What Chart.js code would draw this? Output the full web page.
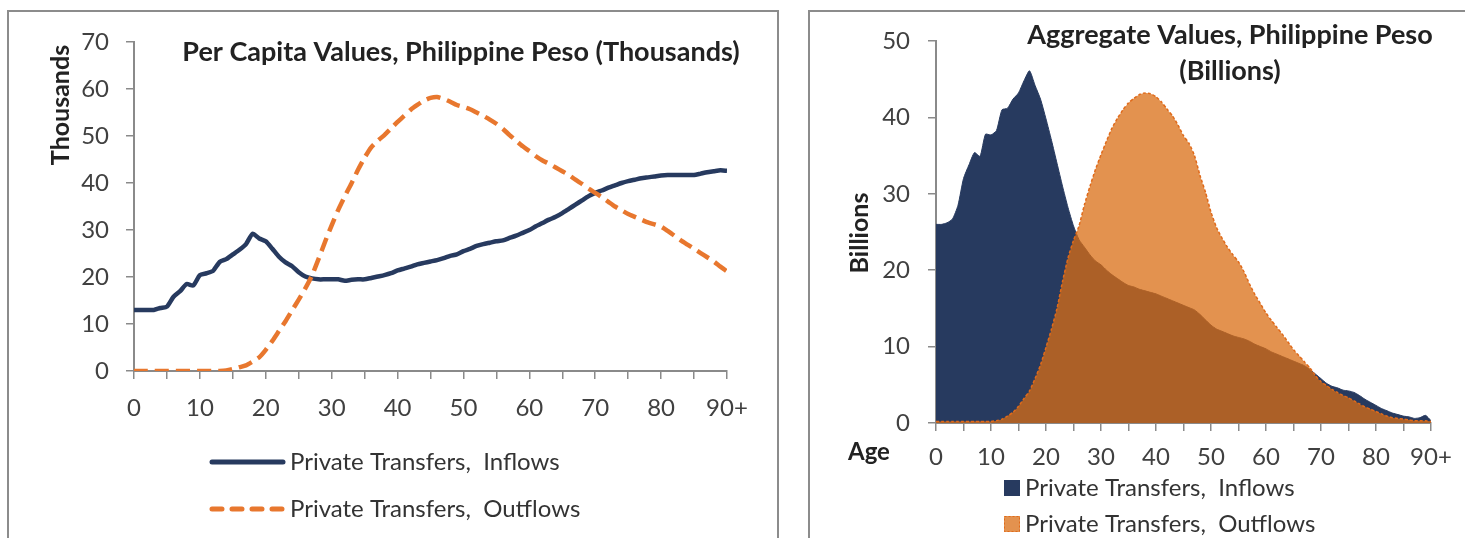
<!DOCTYPE html>
<html>
<head>
<meta charset="utf-8">
<script src="https://cdn.jsdelivr.net/npm/chart.js@4.4.1/dist/chart.umd.min.js"></script>
<style>
  body { margin: 0; background: #fff; width: 1465px; height: 538px; overflow: hidden; position: relative; }
  .box { position: absolute; border: 2px solid #8c8c8c; border-bottom: none; }
  canvas { position: absolute; top: 0; }
</style>
</head>
<body>
<div class="box" style="left:7px; top:10px; width:768px; height:540px;"></div>
<div class="box" style="left:808px; top:10px; width:700px; height:540px;"></div>
<canvas id="perCapita" width="790" height="538" style="left:0"></canvas>
<canvas id="aggregate" width="675" height="538" style="left:790px"></canvas>
<script>
// --- Data ---
const ages = Array.from({ length: 91 }, (_, i) => i);

// per capita, thousands of pesos
const perCapitaInflows = [
  13.0, 13.0, 13.0, 13.0, 13.4, 13.7, 15.8, 17.0, 18.5, 18.2,
  20.4, 20.8, 21.3, 23.2, 23.8, 24.8, 25.8, 27.0, 29.2, 28.2,
  27.6, 26.0, 24.3, 23.1, 22.3, 21.0, 20.1, 19.7, 19.5, 19.5,
  19.5, 19.5, 19.2, 19.4, 19.5, 19.5, 19.8, 20.1, 20.4, 20.8,
  21.4, 21.8, 22.2, 22.7, 23.0, 23.3, 23.6, 24.0, 24.5, 24.8,
  25.5, 26.0, 26.6, 27.0, 27.3, 27.6, 27.8, 28.3, 28.8, 29.4,
  30.0, 30.8, 31.5, 32.2, 32.8, 33.6, 34.5, 35.4, 36.3, 37.2,
  37.9, 38.4, 39.0, 39.5, 40.0, 40.4, 40.7, 41.0, 41.2, 41.4,
  41.6, 41.7, 41.7, 41.7, 41.7, 41.7, 42.0, 42.3, 42.5, 42.7,
  42.6
];
const perCapitaOutflows = [
  0, 0, 0, 0, 0, 0, 0, 0, 0, 0,
  0, 0, 0, 0, 0.1, 0.4, 0.8, 1.2, 2.0, 2.9,
  4.5, 6.4, 8.5, 10.6, 12.9, 15.2, 17.6, 20.3, 23.8, 27.5,
  31.0, 34.3, 37.2, 39.9, 42.8, 45.4, 47.6, 49.0, 50.2, 51.6,
  53.0, 54.3, 55.6, 56.6, 57.5, 58.1, 58.3, 57.9, 57.3, 56.6,
  56.2, 55.7, 55.0, 54.3, 53.5, 52.6, 51.5, 50.2, 49.0, 47.8,
  46.8, 45.7, 44.8, 44.1, 43.3, 42.5, 41.7, 40.7, 39.8, 38.8,
  37.9, 37.0, 36.0, 35.0, 34.2, 33.4, 32.8, 32.2, 31.6, 31.2,
  30.7, 29.8, 28.8, 27.8, 26.9, 26.0, 25.1, 24.2, 23.3, 22.2,
  21.2
];

// aggregate, billions of pesos
const aggregateInflows = [
  26.0, 26.0, 26.2, 26.7, 28.5, 32.0, 33.8, 35.4, 34.9, 37.8,
  37.7, 38.3, 41.0, 41.2, 42.4, 43.2, 44.8, 46.1, 44.2, 42.4,
  39.8, 37.0, 34.0, 31.0, 28.2, 25.8, 24.0, 23.0, 22.0, 21.2,
  20.7, 20.0, 19.4, 18.9, 18.4, 18.0, 17.8, 17.5, 17.3, 17.1,
  16.9, 16.6, 16.3, 16.0, 15.7, 15.4, 15.1, 14.8, 14.2, 13.5,
  12.8, 12.3, 12.0, 11.7, 11.4, 11.2, 11.0, 10.7, 10.3, 10.0,
  9.7, 9.3, 9.0, 8.7, 8.4, 8.1, 7.8, 7.5, 7.0, 6.4,
  5.8, 5.2, 4.8, 4.6, 4.3, 4.2, 4.0, 3.6, 3.1, 2.7,
  2.3, 1.9, 1.6, 1.3, 1.1, 0.9, 0.8, 0.6, 0.7, 1.0,
  0.3
];
const aggregateOutflows = [
  0.2, 0.2, 0.2, 0.2, 0.2, 0.2, 0.2, 0.2, 0.2, 0.2,
  0.2, 0.3, 0.5, 0.9, 1.4, 2.2, 3.2, 4.2, 5.8, 7.6,
  9.9, 12.3, 15.0, 18.5, 21.6, 23.9, 25.8, 28.6, 31.0, 33.2,
  35.1, 36.9, 38.6, 39.9, 41.0, 41.9, 42.5, 43.0, 43.2, 43.1,
  42.7, 42.0, 41.1, 40.2, 39.0, 37.6, 36.6, 35.0, 32.4, 30.2,
  27.6, 25.6, 24.2, 23.0, 22.0, 21.1, 19.8, 18.2, 16.8, 15.6,
  14.4, 13.4, 12.5, 11.6, 10.6, 9.6, 8.8, 8.0, 7.2, 6.2,
  5.4, 4.9, 4.4, 4.0, 3.6, 3.3, 2.9, 2.5, 2.1, 1.8,
  1.5, 1.2, 0.9, 0.7, 0.6, 0.5, 0.4, 0.3, 0.3, 0.3,
  0.2
];

const perCapitaTicks = [0, 10, 20, 30, 40, 50, 60, 70];
const aggregateTicks = [0, 10, 20, 30, 40, 50];
const inflowName = 'Private Transfers,  Inflows';
const outflowName = 'Private Transfers,  Outflows';

// --- Styles ---
const NAVY = '#273a5f';
const ORANGE = '#e8772e';
const AXIS = '#8a8a8a';
const TEXT = '#404040';
const FONT = 'Lato, "Open Sans", sans-serif';

const toPoints = vals => ages.map((a, i) => ({ x: a, y: vals[i] }));

function ageLabel(v) {
  if (v % 10 !== 0) return '';
  return v === 90 ? '90+' : String(v);
}

function xAxis(height, pad) {
  return {
    type: 'linear', min: 0, max: 90,
    border: { color: AXIS, width: 2 },
    grid: { drawOnChartArea: false, tickLength: 8, color: AXIS, lineWidth: 1.5 },
    ticks: { stepSize: 5, autoSkip: false, maxRotation: 0, padding: pad, color: TEXT,
             font: { family: FONT, size: 24 }, callback: ageLabel },
    afterFit: s => { s.height = height; }
  };
}

function yAxis(max, tickVals, width, pad) {
  return {
    min: 0, max: max,
    border: { color: AXIS, width: 2 },
    grid: { drawOnChartArea: false, tickLength: 8, color: AXIS, lineWidth: 1.5 },
    afterBuildTicks: s => { s.ticks = tickVals.map(v => ({ value: v })); },
    ticks: { padding: pad, color: TEXT, font: { family: FONT, size: 24 } },
    afterFit: s => { s.width = width; }
  };
}

// titles, axis titles and legends drawn on the canvas
function decor(cfg) {
  return {
    id: 'decor',
    afterDraw(chart) {
      const ctx = chart.ctx;
      ctx.save();
      ctx.textBaseline = 'middle';
      ctx.fillStyle = '#222';
      ctx.font = 'bold 27px ' + FONT;
      ctx.textAlign = 'center';
      cfg.title.forEach(t => ctx.fillText(t.text, t.x, t.y));

      ctx.font = 'bold 25px ' + FONT;
      ctx.save();
      ctx.translate(cfg.yTitle.x, cfg.yTitle.y);
      ctx.rotate(-Math.PI / 2);
      ctx.fillText(cfg.yTitle.text, 0, 0);
      ctx.restore();

      if (cfg.xTitle) {
        ctx.font = 'bold 24px ' + FONT;
        ctx.textAlign = 'left';
        ctx.fillText(cfg.xTitle.text, cfg.xTitle.x, cfg.xTitle.y);
      }

      ctx.font = '24px ' + FONT;
      ctx.textAlign = 'left';
      cfg.legend.forEach(item => {
        const ds = chart.data.datasets[item.ds];
        const y = item.y;
        if (cfg.legendType === 'line') {
          ctx.strokeStyle = ds.borderColor;
          ctx.lineWidth = 5;
          ctx.lineCap = 'round';
          ctx.setLineDash(ds.borderDash ? [10, 10] : []);
          ctx.beginPath();
          ctx.moveTo(cfg.legendX, y);
          ctx.lineTo(cfg.legendX + 71, y);
          ctx.stroke();
          ctx.setLineDash([]);
          ctx.fillStyle = '#333';
          ctx.fillText(ds.label, cfg.legendX + 78, y);
        } else {
          ctx.fillStyle = ds.backgroundColor;
          ctx.fillRect(cfg.legendX, y - 8, 16, 16);
          if (ds.borderDash) {
            ctx.strokeStyle = ds.borderColor;
            ctx.lineWidth = 1;
            ctx.setLineDash([2, 2]);
            ctx.strokeRect(cfg.legendX + 0.5, y - 7.5, 15, 15);
            ctx.setLineDash([]);
          }
          ctx.fillStyle = '#333';
          ctx.fillText(ds.label, cfg.legendX + 21, y);
        }
      });
      ctx.restore();
    }
  };
}

// --- Per capita chart ---
new Chart(document.getElementById('perCapita'), {
  type: 'line',
  data: {
    datasets: [
      { label: outflowName, data: toPoints(perCapitaOutflows), borderColor: ORANGE,
        borderWidth: 4.5, borderDash: [14, 7], pointRadius: 0, tension: 0.2, order: 1 },
      { label: inflowName, data: toPoints(perCapitaInflows), borderColor: NAVY,
        borderWidth: 4.5, pointRadius: 0, tension: 0.2, order: 2 }
    ]
  },
  options: {
    responsive: false,
    animation: false,
    layout: { padding: { left: 20, top: 42, right: 63, bottom: 107 } },
    scales: { x: xAxis(60, 15), y: yAxis(70, perCapitaTicks, 114, 17) },
    plugins: { legend: { display: false }, tooltip: { enabled: false } }
  },
  plugins: [decor({
    title: [{ text: 'Per Capita Values, Philippine Peso (Thousands)', x: 461, y: 52 }],
    yTitle: { text: 'Thousands', x: 61, y: 105 },
    legendType: 'line',
    legendX: 212,
    legend: [{ ds: 1, y: 462 }, { ds: 0, y: 509 }]
  })]
});

// --- Aggregate chart ---
new Chart(document.getElementById('aggregate'), {
  type: 'line',
  data: {
    datasets: [
      { label: outflowName, data: toPoints(aggregateOutflows), borderColor: '#e06a1a',
        backgroundColor: 'rgba(218,110,20,0.75)', fill: 'origin', borderWidth: 1.5,
        borderDash: [3, 2], pointRadius: 0, tension: 0.2, order: 1 },
      { label: inflowName, data: toPoints(aggregateInflows), borderColor: NAVY,
        backgroundColor: NAVY, fill: 'origin', borderWidth: 1, pointRadius: 0,
        tension: 0.2, order: 2 }
    ]
  },
  options: {
    responsive: false,
    animation: false,
    layout: { padding: { left: 20, top: 41, right: 34, bottom: 55 } },
    scales: { x: xAxis(60, 12), y: yAxis(50, aggregateTicks, 126, 18) },
    plugins: { legend: { display: false }, tooltip: { enabled: false } }
  },
  plugins: [decor({
    title: [{ text: 'Aggregate Values, Philippine Peso', x: 440, y: 35 },
            { text: '(Billions)', x: 440, y: 71 }],
    yTitle: { text: 'Billions', x: 70, y: 233 },
    xTitle: { text: 'Age', x: 58, y: 452 },
    legendType: 'box',
    legendX: 214,
    legend: [{ ds: 1, y: 488 }, { ds: 0, y: 524 }]
  })]
});
</script>
</body>
</html>
